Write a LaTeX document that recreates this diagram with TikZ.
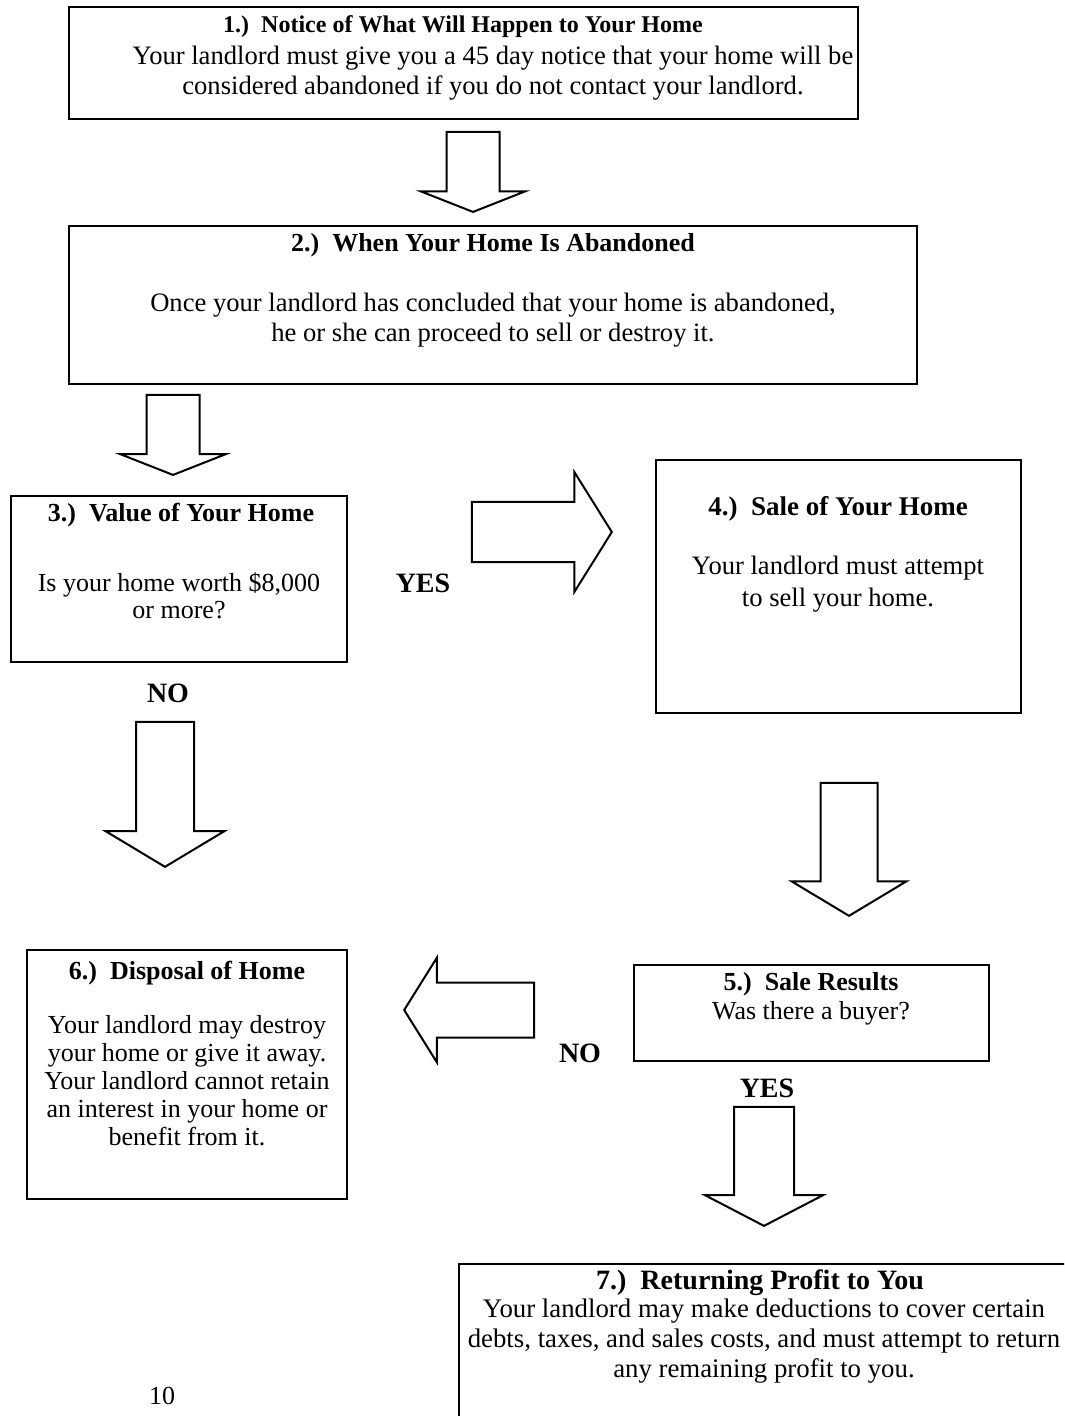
\documentclass[tikz,border=0pt]{standalone}
\usepackage{fontspec}
\setmainfont{Liberation Serif}
\usetikzlibrary{shapes.arrows}

\begin{document}
\begin{tikzpicture}[x=0.5pt, y=-0.5pt,
		stepBox/.style={rectangle, draw=black, line width=1pt},
		bigArrow/.style={single arrow, draw=black, line width=1pt, line join=miter, single arrow head indent=0pt, inner xsep=0pt, anchor=tip},
		titleText/.style={font=\bfseries\fontsize{13}{15}\selectfont},
		bodyText/.style={align=center, font=\fontsize{13}{15}\selectfont},
		answer/.style={font=\bfseries\fontsize{14}{16}\selectfont}]
		\path[use as bounding box, clip] (0,0) rectangle (1064,1416);
		% boxes
		\node[stepBox, minimum width=394.5pt, minimum height=56pt](noticeBox) at (463.5,63){};
		\node[stepBox, minimum width=424pt, minimum height=79pt](abandonBox) at (493,305){};
		\node[stepBox, minimum width=168pt, minimum height=83pt](valueBox) at (179,579){};
		\node[stepBox, minimum width=182.5pt, minimum height=126.5pt](saleBox) at (838.5,586.5){};
		\node[stepBox, minimum width=177.5pt, minimum height=48pt](resultBox) at (811.5,1013){};
		\node[stepBox, minimum width=160pt, minimum height=124.5pt](disposalBox) at (187,1074.5){};
		\node[stepBox, minimum width=315.5pt, minimum height=88pt](profitBox) at (774.5,1352){};
		% texts
		\node[titleText, font=\bfseries\fontsize{12}{14}\selectfont](noticeTitle) at (463,27){1.)~~Notice of What Will Happen to Your Home};
		\node[bodyText, font=\fontsize{13.3}{15}\selectfont](noticeText) at (493,73){Your landlord must give you a 45 day notice that your home will be\\considered abandoned if you do not contact your landlord.};
		\node[titleText](abandonTitle) at (493,245){2.)~~When Your Home Is Abandoned};
		\node[bodyText, font=\fontsize{13.3}{15}\selectfont](abandonText) at (493,320){Once your landlord has concluded that your home is abandoned,\\he or she can proceed to sell or destroy it.};
		\node[titleText](valueTitle) at (181,515){3.)~~Value of Your Home};
		\node[bodyText, font=\fontsize{13}{13.5}\selectfont](valueText) at (179,596){Is your home worth \$8,000\\or more?};
		\node[titleText, font=\bfseries\fontsize{13.5}{15}\selectfont](saleTitle) at (838,509){4.)~~Sale of Your Home};
		\node[bodyText, font=\fontsize{13.3}{16}\selectfont](saleText) at (838,584){Your landlord must attempt\\to sell your home.};
		\node[titleText](resultTitle) at (811,984){5.)~~Sale Results};
		\node[bodyText](resultText) at (811,1013){Was there a buyer?};
		\node[titleText](disposalTitle) at (187,973){6.)~~Disposal of Home};
		\node[bodyText, font=\fontsize{13}{14}\selectfont](disposalText) at (187,1081){Your landlord may destroy\\your home or give it away.\\Your landlord cannot retain\\an interest in your home or\\benefit from it.};
		\node[titleText, font=\bfseries\fontsize{14}{15}\selectfont](profitTitle) at (760,1283){7.)~~Returning Profit to You};
		\node[bodyText, font=\fontsize{13.4}{14.8}\selectfont](profitText) at (764,1341){Your landlord may make deductions to cover certain\\debts, taxes, and sales costs, and must attempt to return\\any remaining profit to you.};
		\node[bodyText](pageNum) at (162,1396){10};
		% answers
		\node[answer](yesValue) at (423,583){YES};
		\node[answer](noValue) at (168,693){NO};
		\node[answer](noResult) at (580,1053){NO};
		\node[answer](yesResult) at (767,1088){YES};
		% arrows
		\node[bigArrow, rotate=-90, minimum height=40pt, inner ysep=12.75pt, single arrow head extend=12.75pt, minimum width=51pt, single arrow tip angle=137](noticeArrow) at (473,213){};
		\node[bigArrow, rotate=-90, minimum height=40pt, inner ysep=12.75pt, single arrow head extend=13pt, minimum width=51.5pt, single arrow tip angle=137](abandonArrow) at (173,476){};
		\node[bigArrow, minimum height=70pt, inner ysep=14.5pt, single arrow head extend=15pt, minimum width=59pt, single arrow tip angle=116](yesArrow) at (613,532){};
		\node[bigArrow, rotate=-90, minimum height=72.5pt, inner ysep=14pt, single arrow head extend=15.25pt, minimum width=58.5pt, single arrow tip angle=118](noArrow) at (165,868){};
		\node[bigArrow, rotate=-90, minimum height=66.5pt, inner ysep=13.75pt, single arrow head extend=14.5pt, minimum width=56.5pt, single arrow tip angle=118](saleArrow) at (849,917){};
		\node[bigArrow, rotate=180, minimum height=65pt, inner ysep=13.25pt, single arrow head extend=12.5pt, minimum width=51.5pt, single arrow tip angle=116](noBuyerArrow) at (403,1010){};
		\node[bigArrow, rotate=-90, minimum height=59.5pt, inner ysep=14.5pt, single arrow head extend=14.5pt, minimum width=58pt, single arrow tip angle=125](buyerArrow) at (764,1227){};
	\end{tikzpicture}
\end{document}
